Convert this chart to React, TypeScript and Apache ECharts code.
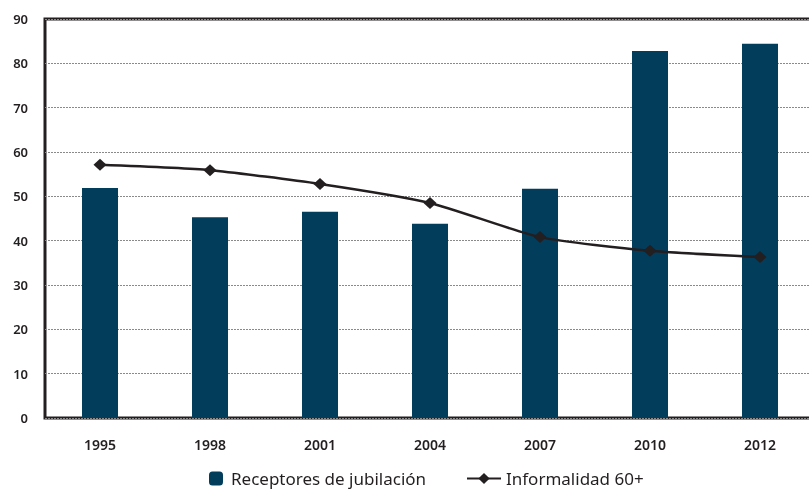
import React, { useEffect, useRef } from "react";
import * as echarts from "echarts";

const categories = ["1995", "1998", "2001", "2004", "2007", "2010", "2012"];
const receptores = [51.9, 45.3, 46.5, 43.8, 51.7, 82.8, 84.4];
const informalidad = [57.1, 55.9, 52.8, 48.5, 40.8, 37.7, 36.3];
const barName = "Receptores de jubilación";
const lineName = "Informalidad 60+";

export default function App() {
  const ref = useRef<HTMLDivElement>(null);
  useEffect(() => {
    if (!ref.current) return;
    const chart = echarts.init(ref.current, null, { renderer: "svg" });
    const font = "'Noto Sans', sans-serif";
    chart.setOption({
      animation: false,
      textStyle: { fontFamily: font },
      grid: {
        left: 45,
        right: 0,
        top: 19,
        bottom: 73,
        show: true,
        borderColor: "#231f20",
        borderWidth: 3,
        backgroundColor: "transparent",
      },
      legend: [
        {
          data: [barName],
          left: 209,
          top: 470,
          itemWidth: 14,
          itemHeight: 14,
          textStyle: { fontFamily: font, fontSize: 17, color: "#231f20", padding: [0, 0, 0, 3] },
          padding: 0,
        },
        {
          data: [lineName],
          left: 466,
          top: 470,
          itemWidth: 34,
          itemHeight: 14,
          textStyle: { fontFamily: font, fontSize: 17, color: "#231f20", padding: [0, 0, 0, 0] },
          padding: 0,
        },
      ],
      xAxis: {
        type: "category",
        data: categories,
        axisLine: { show: false },
        axisTick: { show: false },
        axisLabel: {
          color: "#231f20",
          fontSize: 14,
          fontWeight: 600,
          margin: 19,
          fontFamily: font,
        },
      },
      yAxis: {
        type: "value",
        min: 0,
        max: 90,
        interval: 10,
        axisLine: { show: false },
        axisTick: { show: false },
        axisLabel: {
          color: "#231f20",
          fontSize: 13,
          fontWeight: 600,
          margin: 17,
          fontFamily: font,
        },
        splitLine: {
          lineStyle: { color: "#8a8a8a", width: 1, type: [2, 1] },
        },
      },
      series: [
        {
          name: barName,
          type: "bar",
          data: receptores,
          barWidth: 36,
          itemStyle: { color: "#023d5c" },
        },
        {
          name: lineName,
          type: "line",
          data: informalidad,
          smooth: 0.2,
          symbol: "diamond",
          symbolSize: [13, 12],
          lineStyle: { color: "#231f20", width: 2.5 },
          itemStyle: { color: "#231f20" },
        },
      ],
    });
    return () => chart.dispose();
  }, []);
  return (
    <div
      ref={ref}
      style={{ position: "fixed", left: 0, top: 0, width: 815, height: 491 }}
    />
  );
}
